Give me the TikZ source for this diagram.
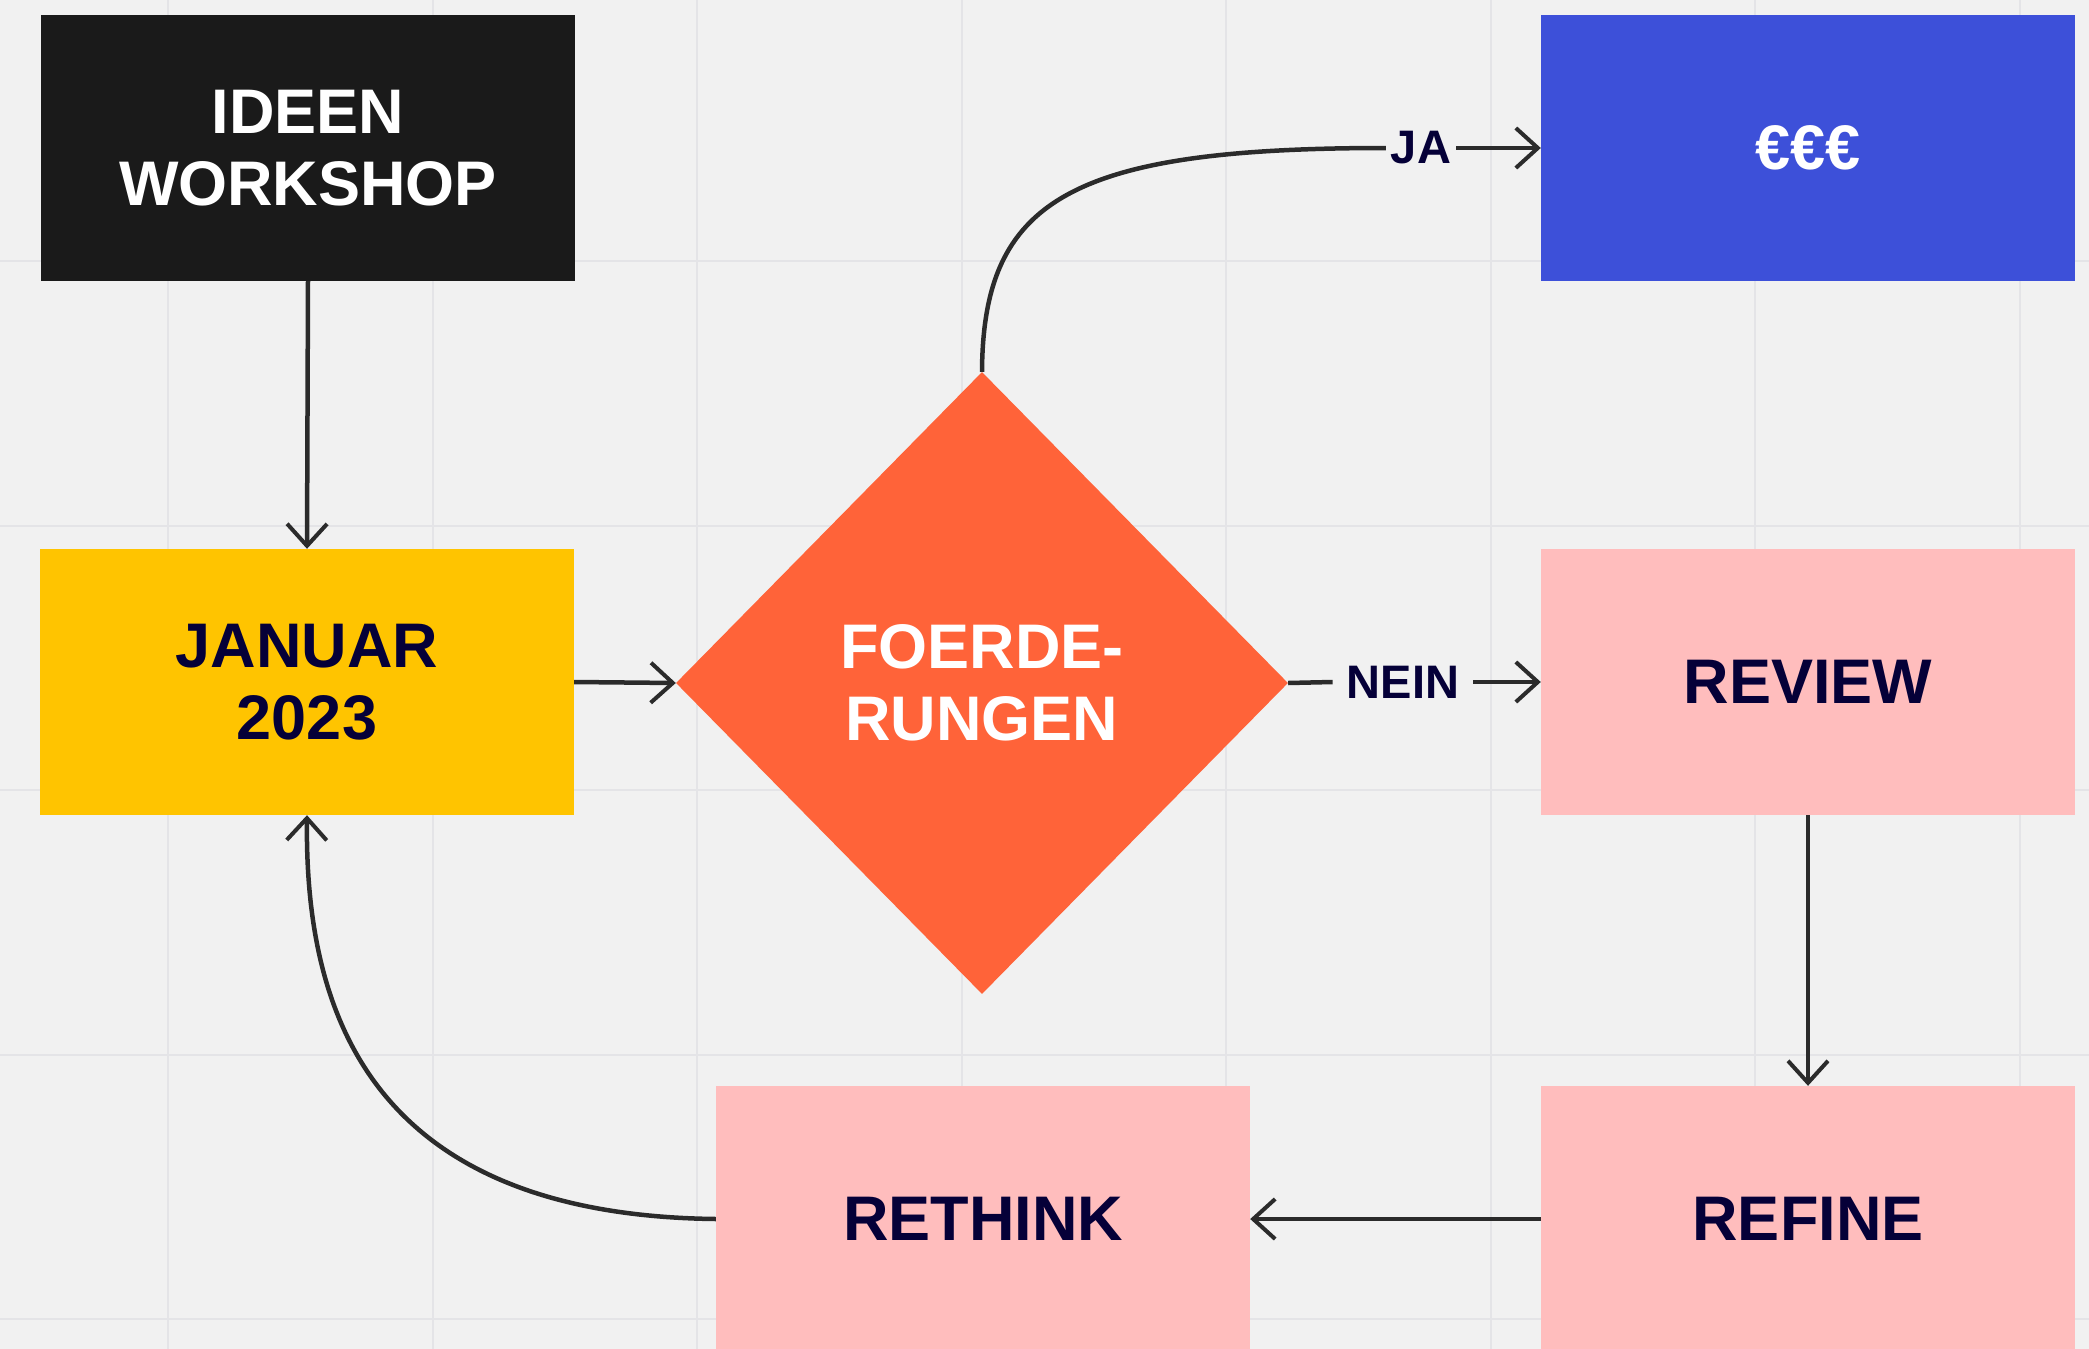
\documentclass[tikz,border=0pt]{standalone}
\usepackage{fontspec}
\setmainfont{Liberation Sans}
\usetikzlibrary{shapes.geometric,arrows.meta}
\definecolor{bgcol}{HTML}{F1F1F1}
\definecolor{gridcol}{HTML}{E4E4E7}
\definecolor{blackbox}{HTML}{1A1A1A}
\definecolor{bluebox}{HTML}{3D50D9}
\definecolor{yellowbox}{HTML}{FFC400}
\definecolor{orangebox}{HTML}{FF6339}
\definecolor{pinkbox}{HTML}{FFBDBD}
\definecolor{navy}{HTML}{050038}
\definecolor{conncol}{HTML}{2B2B2B}
\begin{document}
\begin{tikzpicture}[x=1pt,y=-1pt,
  box/.style={rectangle, minimum width=534pt, minimum height=266pt, inner sep=0pt,
    align=center, font=\bfseries\fontsize{63}{72}\selectfont, text=navy},
  diam/.style={diamond, minimum width=612pt, minimum height=622pt, inner sep=0pt,
    align=center, font=\bfseries\fontsize{63}{72}\selectfont, text=white, fill=orangebox},
  lbl/.style={font=\bfseries\fontsize{47}{50}\selectfont, text=navy, inner ysep=0pt},
  conn/.style={line width=4.5pt, draw=conncol,
    -{Straight Barb[length=22pt,width=40pt,line width=4pt]}},
  plain/.style={line width=4.5pt, draw=conncol},
  gridline/.style={line width=2pt, draw=gridcol}]
\useasboundingbox (0,0) rectangle (2089,1349);
\clip (0,0) rectangle (2089,1349);
\fill[bgcol] (0,0) rectangle (2089,1349);
% grid
\foreach \gx in {168,432.5,697,961.5,1226,1490.5,1755,2019.5}
  \draw[gridline] (\gx,0) -- (\gx,1349);
\foreach \gy in {261,525.5,790,1054.5,1319}
  \draw[gridline] (0,\gy) -- (2089,\gy);
% nodes
\node[box, fill=blackbox, text=white] (ideen) at (308,148) {IDEEN\\WORKSHOP};
\node[box, fill=bluebox, text=white] (eur) at (1808,148) {€€€};
\node[box, fill=yellowbox] (januar) at (307,682) {JANUAR\\2023};
\node[diam] (foerd) at (982,683) {FOERDE-\\RUNGEN};
\node[box, fill=pinkbox] (review) at (1808,682) {REVIEW};
\node[box, fill=pinkbox] (rethink) at (983,1219) {RETHINK};
\node[box, fill=pinkbox] (refine) at (1808,1219) {REFINE};
\node[lbl, inner xsep=5pt] (ja) at (1421,148) {JA};
\node[lbl, inner xsep=14pt] (nein) at (1403,682) {NEIN};
% connectors
\draw[conn] (ideen.south) -- (januar.north);
\draw[conn] (januar.east) -- (foerd.west);
\draw[plain] (foerd.north) .. controls (983,200) and (1070,148) .. (ja.west);
\draw[conn] (ja.east) -- (eur.west);
\draw[plain] (foerd.east) -- (nein.west);
\draw[conn] (nein.east) -- (review.west);
\draw[conn] (review.south) -- (refine.north);
\draw[conn] (refine.west) -- (rethink.east);
\draw[conn] (rethink.west) .. controls (360,1215) and (305,1000) .. (januar.south);
\end{tikzpicture}
\end{document}
